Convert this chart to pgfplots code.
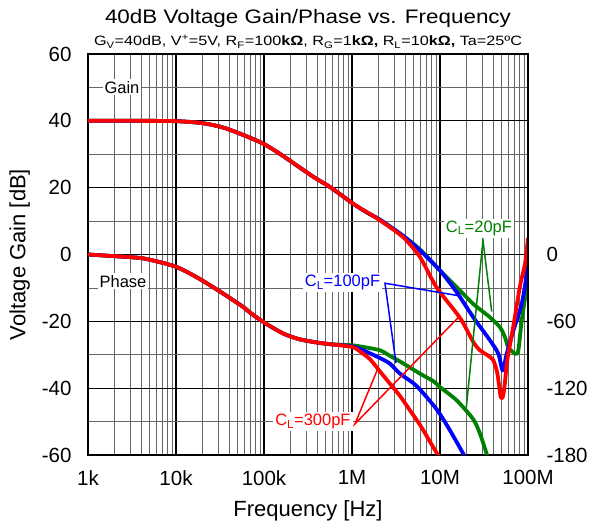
\documentclass[border=0pt]{standalone}
\usepackage{pgfplots}
\pgfplotsset{compat=1.18}
\usepackage{fontspec}
\setmainfont{Liberation Sans}
\newfontfamily\titlefont{Liberation Sans}[FakeStretch=1.15]
\newfontfamily\subfont{Liberation Sans}[FakeStretch=1.2]
\definecolor{cgreen}{RGB}{0,128,0}
\definecolor{cblue}{RGB}{0,0,255}
\definecolor{cred}{RGB}{255,0,0}

\pgfplotstableread{
f g
1000 40
3162 40
1e4 39.9
2e4 39.3
3.42e4 38.0
5.77e4 35.8
9.75e4 33.2
1.52e5 30.1
3.61e5 23.3
5.62e5 20.2
1.03e6 15.2
1.47e6 12.7
2.08e6 10.2
3.8e6 5.2
5.93e6 -0.8
9.12e6 -9.8
1.69e7 -19
2.39e7 -26.2
2.85e7 -28.7
3.4e7 -30
4.0e7 -31.5
4.44e7 -35
4.68e7 -39
4.9e7 -42.7
5.2e7 -42.5
5.48e7 -38
5.73e7 -33
5.97e7 -29.7
6.81e7 -21.5
8.1e7 -9.5
9.25e7 -2.8
1e8 5
}\gainred

\pgfplotstableread{
f g
1000 40
3162 40
1e4 39.9
2e4 39.3
3.42e4 38.0
5.77e4 35.8
9.75e4 33.2
1.52e5 30.1
3.61e5 23.3
5.62e5 20.2
1.03e6 15.2
1.47e6 12.6
2.08e6 10.4
3.8e6 5.6
5.93e6 1.2
1e7 -4.8
1.55e7 -11.3
2.39e7 -18.8
3.7e7 -25.7
4.6e7 -29.7
5.15e7 -34.7
5.73e7 -29.7
6.81e7 -22.8
8.47e7 -14.8
9.66e7 -5.8
1e8 1.5
}\gainblue

\pgfplotstableread{
f g
1000 40
3162 40
1e4 39.9
2e4 39.3
3.42e4 38.0
5.77e4 35.8
9.75e4 33.2
1.52e5 30.1
3.61e5 23.3
5.62e5 20.2
1.03e6 15.2
1.47e6 12.6
2.08e6 10.4
3.8e6 5.6
5.93e6 1.5
1e7 -4.8
1.55e7 -9.8
2.39e7 -14.8
3.7e7 -18.8
4.81e7 -21.8
5.48e7 -24.8
5.97e7 -27.7
7.11e7 -29.7
7.76e7 -28.7
8.47e7 -19.8
9.66e7 -9.8
1e8 -5
}\gaingreen

\pgfplotstableread{
f p
1000 0
2000 -1.5
3162 -2.5
4600 -4
1e4 -11
1.86e4 -22
3.42e4 -35
5.77e4 -47
6.9e4 -52
1e5 -61
1.66e5 -71
2.5e5 -76
3.98e5 -79
5.62e5 -80.5
1e6 -83
1.23e6 -87
1.6e6 -94
2.08e6 -105
2.7e6 -116
3.51e6 -127
4.56e6 -140
5.93e6 -153
7.69e6 -168
9.48e6 -180
1.05e7 -186
}\phasered

\pgfplotstableread{
f p
1000 0
2000 -1.5
3162 -2.5
4600 -4
1e4 -11
1.86e4 -22
3.42e4 -35
5.77e4 -47
6.9e4 -52
1e5 -61
1.66e5 -71
2.5e5 -76
3.98e5 -79
5.62e5 -80.5
1e6 -82.5
1.34e6 -86
2.08e6 -93
2.7e6 -98
3.51e6 -107
5.41e6 -118
9.16e6 -139
1.3e7 -158
1.84e7 -179
2.0e7 -186
}\phaseblue

\pgfplotstableread{
f p
1000 0
2000 -1.5
3162 -2.5
4600 -4
1e4 -11
1.86e4 -22
3.42e4 -35
5.77e4 -47
6.9e4 -52
1e5 -61
1.66e5 -71
2.5e5 -76
3.98e5 -79
5.62e5 -80.5
1e6 -81.5
1.34e6 -83
2.08e6 -86
2.7e6 -91
3.51e6 -96
5.93e6 -107
8.5e6 -114
1e7 -119
1.55e7 -131
2.39e7 -148
2.85e7 -161
3.39e7 -179
3.6e7 -186
}\phasegreen

\begin{document}
\begin{tikzpicture}
\useasboundingbox (-88pt,-71pt) rectangle (503pt,455pt);
\begin{axis}[
  at={(0pt,0pt)}, anchor=south west,
  scale only axis, width=440pt, height=401pt,
  xmode=log, xmin=1e3, xmax=1e8,
  ymin=-60, ymax=60,
  xtick={1e3,1e4,1e5,1e6,1e7,1e8},
  xticklabels={1k,10k,100k,1M,10M,100M},
  minor xtick={2e3,3e3,4e3,5e3,6e3,7e3,8e3,9e3,2e4,3e4,4e4,5e4,6e4,7e4,8e4,9e4,2e5,3e5,4e5,5e5,6e5,7e5,8e5,9e5,2e6,3e6,4e6,5e6,6e6,7e6,8e6,9e6,2e7,3e7,4e7,5e7,6e7,7e7,8e7,9e7},
  ytick={-60,-40,-20,0,20,40,60},
  yticklabels={-60,-40,-20,0,20,40,60},
  minor ytick={-50,-30,-10,10,30,50},
  grid=both,
  major grid style={black, line width=1.1pt},
  minor grid style={black!60, line width=0.7pt},
  major tick length=0pt, minor tick length=0pt,
  axis line style={line width=1.8pt},
  tick label style={font=\fontsize{20.5}{24}\selectfont},
  xticklabel style={yshift=-12pt},
  yticklabel style={xshift=-13pt},
  xlabel={Frequency [Hz]}, ylabel={Voltage Gain [dB]},
  label style={font=\fontsize{22}{26}\selectfont},
  xlabel style={at={(axis description cs:0.5,-0.14)}, anchor=center},
  ylabel style={at={(axis description cs:-0.155,0.5)}, anchor=center},
  every axis plot/.append style={line width=3.8pt, line join=round, smooth, tension=0.45},
]
\addplot[cgreen] table[x=f,y=g] {\gaingreen};
\addplot[cblue] table[x=f,y=g] {\gainblue};
\addplot[cred] table[x=f,y=g] {\gainred};
\coordinate (glab) at (axis cs:2430,50);
\coordinate (plab) at (axis cs:2500,-8);
\coordinate (l20) at (axis cs:2.77e7,7.9);
\coordinate (v20) at (axis cs:3.08e7,4.2);
\coordinate (a20) at (axis cs:3.87e7,-17.1);
\coordinate (b20) at (axis cs:1.99e7,-45.8);
\coordinate (l100) at (axis cs:7.8e5,-8.5);
\coordinate (v100) at (axis cs:2.37e6,-8.6);
\coordinate (a100) at (axis cs:1.6e7,-12.3);
\coordinate (b100) at (axis cs:3.16e6,-32.5);
\coordinate (l300) at (axis cs:3.6e5,-50.1);
\coordinate (v300) at (axis cs:1.08e6,-50.7);
\coordinate (a300) at (axis cs:1.99e6,-33.8);
\coordinate (b300) at (axis cs:1.69e7,-18.3);
\end{axis}
\begin{axis}[
  at={(0pt,0pt)}, anchor=south west,
  scale only axis, width=440pt, height=401pt,
  xmode=log, xmin=1e3, xmax=1e8,
  ymin=-180, ymax=180,
  axis x line=none, axis y line*=right,
  ytick={-180,-120,-60,0},
  yticklabels={-180,-120,-60,0},
  major tick length=0pt, minor tick length=0pt,
  axis line style={line width=1.8pt},
  tick label style={font=\fontsize{20.5}{24}\selectfont},
  yticklabel style={anchor=west, xshift=15pt},
  every axis plot/.append style={line width=3.8pt, line join=round, smooth, tension=0.45},
]
\addplot[cgreen] table[x=f,y=p] {\phasegreen};
\addplot[cblue] table[x=f,y=p] {\phaseblue};
\addplot[cred] table[x=f,y=p] {\phasered};
\end{axis}
\draw[cgreen, line width=1.5pt] (a20) -- (v20) -- (b20);
\draw[cblue, line width=1.5pt] (a100) -- (v100) -- (b100);
\draw[cred, line width=1.5pt] (a300) -- (v300) -- (b300);
\tikzset{lab/.style={fill=white, inner sep=2pt, font=\fontsize{16.5}{19}\selectfont}}
\node[lab] at (glab) {Gain};
\node[lab] at (plab) {Phase};
\node[lab, text=cgreen] at (l20) {C\textsubscript{L}=20pF};
\node[lab, text=cblue] at (l100) {C\textsubscript{L}=100pF};
\node[lab, text=cred] at (l300) {C\textsubscript{L}=300pF};
\node[anchor=base, font=\titlefont\fontsize{19.5}{23}\selectfont] at (220pt,431pt) {40dB Voltage Gain/Phase vs. Frequency};
\node[anchor=base, font=\subfont\fontsize{13.5}{16}\selectfont] at (220pt,409pt) {G\textsubscript{V}=40dB, V\textsuperscript{+}=5V, R\textsubscript{F}=100\textbf{kΩ}, R\textsubscript{G}=1\textbf{kΩ,} R\textsubscript{L}=10\textbf{kΩ,} Ta=25ºC};
\end{tikzpicture}
\end{document}
